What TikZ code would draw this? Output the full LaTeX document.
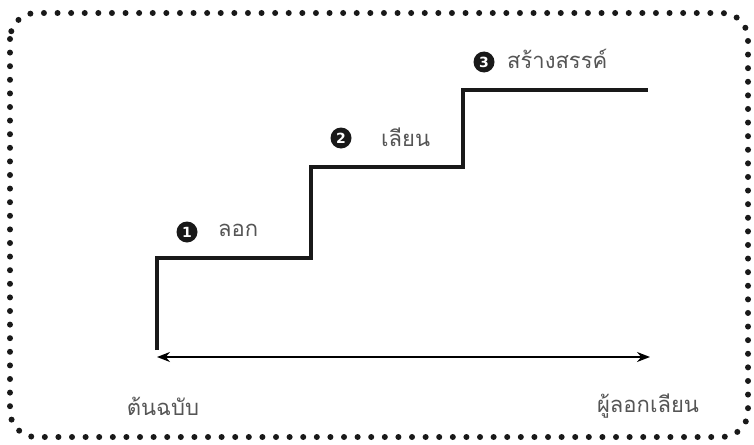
\documentclass[tikz,border=0pt]{standalone}
\usepackage{fontspec}
\newfontfamily\thaifont[Script=Thai]{Loma}
\newfontfamily\numfont{DejaVu Sans}
\usetikzlibrary{arrows.meta}
\definecolor{txtgray}{HTML}{555555}
\tikzset{
  frame/.style={line width=6pt, line cap=round, dash pattern=on 0pt off 13.6pt, rounded corners=26pt, color=black!90},
  stair/.style={line width=4pt, line join=miter, color=black!90},
  axis/.style={line width=1.6pt, {Stealth[length=13pt,width=10pt]}-{Stealth[length=13pt,width=10pt]}},
  lbl/.style={font=\thaifont\fontsize{22}{24}\selectfont, text=txtgray, inner sep=0pt},
  num/.style={circle, fill=black!90, minimum size=21pt, inner sep=0pt, text=white, font=\numfont\bfseries\fontsize{14}{14}\selectfont}
}
\begin{document}
\begin{tikzpicture}[x=1pt,y=-1pt]
\useasboundingbox (0,0) rectangle (754,444);
\draw[frame] (10,13) rectangle (748,437);
\coordinate (s0) at (157,350);
\coordinate (s1) at (157,258);
\coordinate (s2) at (311,258);
\coordinate (s3) at (311,167);
\coordinate (s4) at (463,167);
\coordinate (s5) at (463,90);
\coordinate (s6) at (648,90);
\draw[stair] (s0) -- (s1) -- (s2) -- (s3) -- (s4) -- (s5) -- (s6);
\coordinate (a0) at (157,357);
\coordinate (a1) at (650,357);
\draw[axis] (a0) -- (a1);
\node[lbl] (orig) at (163,406) {ต้นฉบับ};
\node[lbl] (copy) at (648,406) {ผู้ลอกเลียน};
\node[num] (n1) at (187,232) {1};
\node[num] (n2) at (341,138) {2};
\node[num] (n3) at (484,62) {3};
\node[lbl, anchor=west] (l1) at (218,230) {ลอก};
\node[lbl, anchor=west] (l2) at (381,137) {เลียน};
\node[lbl, anchor=west] (l3) at (507,59) {สร้างสรรค์};
\end{tikzpicture}
\end{document}
